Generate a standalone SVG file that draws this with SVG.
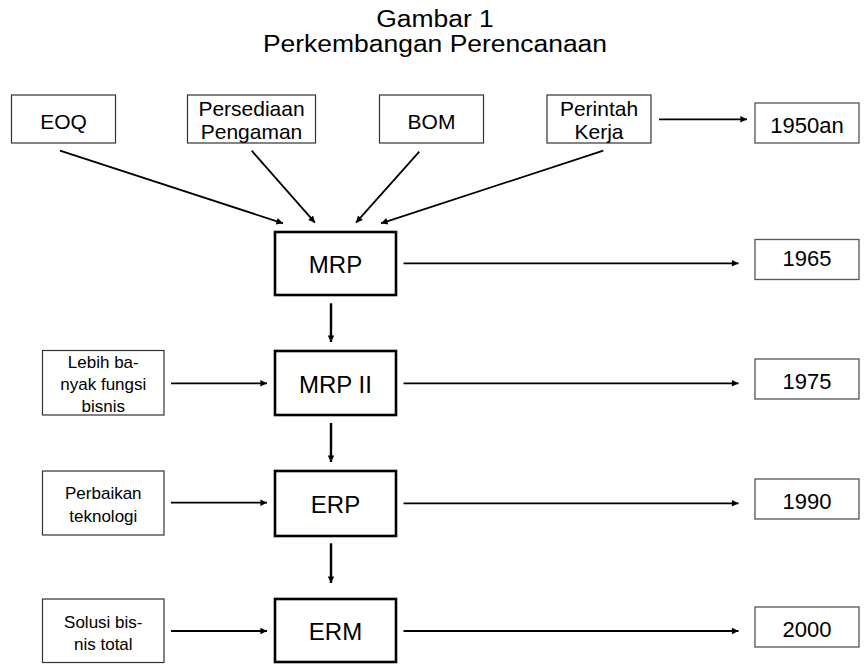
<svg xmlns="http://www.w3.org/2000/svg" width="865" height="664" viewBox="0 0 865 664">
  <defs>
    <marker id="arrow" viewBox="0 0 10 10" refX="10" refY="5" markerWidth="8.5" markerHeight="6.6" markerUnits="userSpaceOnUse" orient="auto">
      <path d="M0,0 L10,5 L0,10 z" fill="#000"/>
    </marker>
    <style>
      text { font-family: "Liberation Sans", Arial, sans-serif; fill: #000; text-anchor: middle; }
      .title { font-size: 24.5px; }
      .src { fill: #fff; stroke: #333; stroke-width: 1.2; }
      .main { fill: #fff; stroke: #000; stroke-width: 2.6; }
      .yr { fill: #fff; stroke: #555; stroke-width: 1.3; }
      .t21 { font-size: 21px; }
      .t17 { font-size: 17px; }
      .t24 { font-size: 24px; }
      .y22 { font-size: 22px; }
      .conn line { stroke: #000; stroke-width: 1.8; marker-end: url(#arrow); }
      .conn line.down { stroke-width: 2.4; }
    </style>
  </defs>
  <rect width="865" height="664" fill="#fff"/>

  <!-- heading -->
  <g id="title">
    <text class="title" x="435" y="27" transform="translate(435,0) scale(1.08,1) translate(-435,0)">Gambar 1</text>
    <text class="title" x="435" y="52" transform="translate(435,0) scale(1.08,1) translate(-435,0)">Perkembangan Perencanaan</text>
  </g>

  <!-- 1950s inputs -->
  <g id="eoq">
    <rect class="src" x="11.5" y="95" width="104" height="48"/>
    <text class="t21" x="63.5" y="128.5">EOQ</text>
  </g>
  <g id="persediaan">
    <rect class="src" x="187.5" y="95" width="128" height="48"/>
    <text class="t21" x="251.5" y="115.5">Persediaan</text>
    <text class="t21" x="251.5" y="138.5">Pengaman</text>
  </g>
  <g id="bom">
    <rect class="src" x="379.5" y="95" width="104" height="48"/>
    <text class="t21" x="431.5" y="128.5">BOM</text>
  </g>
  <g id="perintah">
    <rect class="src" x="547" y="95" width="104" height="48"/>
    <text class="t21" x="599" y="115.5">Perintah</text>
    <text class="t21" x="599" y="138.5">Kerja</text>
  </g>

  <!-- stages -->
  <g id="mrp">
    <rect class="main" x="275" y="232" width="121" height="63"/>
    <text class="t24" x="335.5" y="273">MRP</text>
  </g>
  <g id="mrp2">
    <rect class="main" x="275" y="351" width="121" height="64"/>
    <text class="t24" x="335.5" y="393">MRP II</text>
  </g>
  <g id="erp">
    <rect class="main" x="275" y="471" width="121" height="65"/>
    <text class="t24" x="335.5" y="512.5">ERP</text>
  </g>
  <g id="erm">
    <rect class="main" x="275" y="599" width="121" height="63"/>
    <text class="t24" x="335.5" y="640">ERM</text>
  </g>

  <!-- drivers -->
  <g id="lebih">
    <rect class="src" x="42.5" y="350.5" width="121.5" height="64.5"/>
    <text class="t17" x="103.3" y="368">Lebih ba-</text>
    <text class="t17" x="103.3" y="390">nyak fungsi</text>
    <text class="t17" x="103.3" y="411.5">bisnis</text>
  </g>
  <g id="perbaikan">
    <rect class="src" x="42.5" y="471" width="121.5" height="64"/>
    <text class="t17" x="103.3" y="499">Perbaikan</text>
    <text class="t17" x="103.3" y="521.5">teknologi</text>
  </g>
  <g id="solusi">
    <rect class="src" x="42.5" y="599" width="121.5" height="63.5"/>
    <text class="t17" x="103.3" y="627.5">Solusi bis-</text>
    <text class="t17" x="103.3" y="650">nis total</text>
  </g>

  <!-- years -->
  <g id="y1950">
    <rect class="yr" x="755" y="103" width="104" height="40"/>
    <text class="y22" x="807" y="133">1950an</text>
  </g>
  <g id="y1965">
    <rect class="yr" x="755" y="239.5" width="104" height="40"/>
    <text class="y22" x="807" y="265.5">1965</text>
  </g>
  <g id="y1975">
    <rect class="yr" x="755" y="359" width="104" height="40"/>
    <text class="y22" x="807" y="388.5">1975</text>
  </g>
  <g id="y1990">
    <rect class="yr" x="755" y="479" width="104" height="40"/>
    <text class="y22" x="807" y="508.5">1990</text>
  </g>
  <g id="y2000">
    <rect class="yr" x="755" y="607" width="104" height="40"/>
    <text class="y22" x="807" y="636.5">2000</text>
  </g>

  <!-- connectors -->
  <g id="connectors" class="conn">
    <line x1="60" y1="150.7" x2="283" y2="223.3"/>
    <line x1="251.7" y1="150.7" x2="315" y2="222.7"/>
    <line x1="419.3" y1="151.7" x2="356" y2="222.7"/>
    <line x1="603.3" y1="150.7" x2="381" y2="223.3"/>
    <line x1="659" y1="119.3" x2="747" y2="119.3"/>

    <line class="down" x1="331" y1="303.3" x2="331" y2="342"/>
    <line class="down" x1="331" y1="423" x2="331" y2="462"/>
    <line class="down" x1="331" y1="543.3" x2="331" y2="583"/>

    <line x1="171" y1="383.3" x2="267" y2="383.3"/>
    <line x1="171" y1="502.7" x2="267" y2="502.7"/>
    <line x1="171" y1="631" x2="267" y2="631"/>

    <line x1="403.5" y1="263.3" x2="738.5" y2="263.3"/>
    <line x1="403.5" y1="383.3" x2="738.5" y2="383.3"/>
    <line x1="403.5" y1="503.3" x2="738.5" y2="503.3"/>
    <line x1="403.5" y1="631" x2="738.5" y2="631"/>
  </g>
</svg>
